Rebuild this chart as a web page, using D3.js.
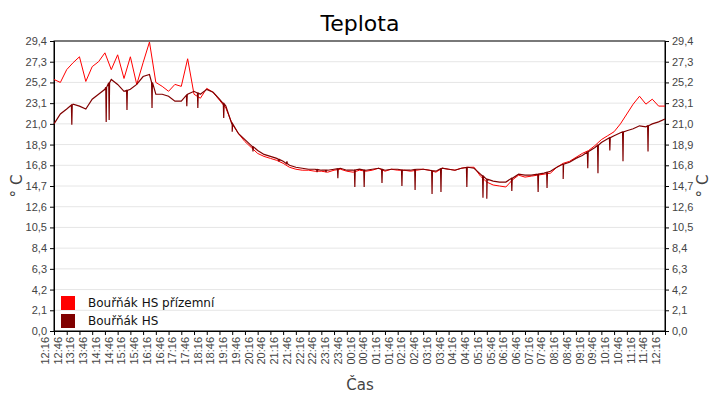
<!DOCTYPE html>
<html>
<head>
<meta charset="utf-8">
<script src="https://cdn.jsdelivr.net/npm/d3@7"></script>
<style>
  body { margin: 0; background: #fff; }
  svg { font-family: "DejaVu Sans", sans-serif; }
  .axis text { fill: #444; font-size: 11px; }
  .axis path, .axis line { stroke: #000; }
</style>
</head>
<body>
<script>
// readings every 15 minutes from 12:16
const stepMinutes = 15;
const seriesNames = ['Bouřňák HS přízemní', 'Bouřňák HS'];
const seriesColors = ['#ff0000', '#800000'];

const ground = [
  25.5, 25.2, 26.5, 27.2, 27.8, 25.3, 26.8, 27.3, 28.2, 26.5, 28.0, 25.6, 27.8, 25.0, 27.2, 29.3,
  25.2, 24.8, 24.3, 25.0, 24.8, 27.6, 24.0, 23.6, 24.6, 24.2, 23.4, 22.6, 21.0, 20.0, 19.2, 18.6,
  18.0, 17.7, 17.5, 17.3, 17.0, 16.6, 16.4, 16.3, 16.3, 16.2, 16.2, 16.1, 16.3, 16.4, 16.2, 16.1,
  16.3, 16.2, 16.3, 16.5, 16.2, 16.4, 16.3, 16.3, 16.2, 16.3, 16.4, 16.3, 16.1, 16.5, 16.4, 16.3,
  16.5, 16.6, 16.6, 15.7, 15.1, 14.8, 14.7, 14.6, 15.3, 15.8, 15.6, 15.7, 15.8, 15.9, 16.0, 16.6,
  17.0, 17.2, 17.6, 18.0, 18.3, 18.8, 19.4, 19.8, 20.2, 21.0, 22.0, 23.0, 23.8, 23.0, 23.5, 22.8,
  22.8
];

const hs = [
  21.0, 22.0, 22.5, 23.0, 22.8, 22.5, 23.5, 24.0, 24.5, 25.5, 25.0, 24.3, 24.5, 25.0, 25.8, 26.0,
  24.0, 24.0, 23.8, 23.3, 23.3, 24.0, 24.3, 24.0, 24.5, 24.2, 23.5, 22.8, 21.0, 20.0, 19.4, 18.8,
  18.3, 17.9, 17.7, 17.5, 17.2, 16.8, 16.6, 16.5, 16.4, 16.4, 16.3, 16.3, 16.4, 16.5, 16.3, 16.3,
  16.4, 16.3, 16.4, 16.5, 16.3, 16.4, 16.4, 16.3, 16.3, 16.4, 16.4, 16.3, 16.2, 16.5, 16.4, 16.3,
  16.5, 16.6, 16.5, 15.9, 15.4, 15.2, 15.1, 15.1, 15.5, 15.9, 15.8, 15.8, 15.9, 16.0, 16.2, 16.6,
  16.9, 17.1, 17.5, 17.8, 18.2, 18.6, 19.1, 19.5, 19.8, 20.1, 20.3, 20.5, 20.8, 20.7, 21.0, 21.2,
  21.5
];

// short drops in the HS sensor: [minutes from start, value]
const hsDrops = [
  [42, 20.9], [123, 21.2], [130, 21.4], [172, 22.4], [231, 22.6], [313, 22.8], [339, 22.6],
  [400, 21.6], [420, 20.2], [469, 18.2], [530, 17.2], [549, 17.2], [620, 16.1], [641, 16.1],
  [669, 15.5], [709, 14.6], [731, 14.6], [773, 15.0], [820, 14.7], [851, 14.3], [891, 13.9],
  [912, 14.1], [973, 14.6], [1011, 13.5], [1020, 13.4], [1079, 14.2], [1141, 14.1], [1162, 14.5],
  [1200, 15.4], [1258, 16.5], [1282, 16.0], [1310, 18.3], [1341, 17.2], [1400, 18.2]
];

const yTicks = [0, 2.1, 4.2, 6.3, 8.4, 10.5, 12.6, 14.7, 16.8, 18.9, 21.0, 23.1, 25.2, 27.3, 29.4];

const start = new Date(2024, 0, 1, 12, 16);
const t = m => new Date(start.getTime() + m * 60000);

const margin = { top: 41, right: 55, bottom: 69, left: 54 };
const width = 720 - margin.left - margin.right;
const height = 400 - margin.top - margin.bottom;

const svg = d3.select('body').append('svg')
  .attr('width', 720).attr('height', 400);

const g = svg.append('g')
  .attr('transform', `translate(${margin.left}, ${margin.top})`);

const x = d3.scaleTime().domain([t(0), t(24 * 60)]).range([0, width]);
const y = d3.scaleLinear().domain([0, 29.4]).range([height, 0]);

g.selectAll('line.grid')
  .data(yTicks.slice(1))
  .enter().append('line')
  .attr('class', 'grid')
  .attr('x1', 0).attr('x2', width)
  .attr('y1', d => y(d)).attr('y2', d => y(d))
  .attr('stroke', '#e6e6e6');

const fmt = d3.format('.1f');
const comma = d => fmt(d).replace('.', ',');

g.append('g').attr('class', 'axis')
  .call(d3.axisLeft(y).tickValues(yTicks).tickFormat(comma).tickSize(4));
g.append('g').attr('class', 'axis')
  .attr('transform', `translate(${width},0)`)
  .call(d3.axisRight(y).tickValues(yTicks).tickFormat(comma).tickSize(4));

const xTicks = d3.range(0, 24 * 60 + 1, 30).map(t);
g.append('g').attr('class', 'axis')
  .attr('transform', `translate(0,${height})`)
  .call(d3.axisBottom(x).tickValues(xTicks).tickFormat(d3.timeFormat('%H:%M')).tickSize(4))
  .selectAll('text')
  .attr('transform', 'rotate(-90)')
  .attr('text-anchor', 'end')
  .attr('dx', '-6px').attr('dy', '-0.5em')
  .attr('y', 0).attr('x', 0);

g.append('rect')
  .attr('width', width).attr('height', height)
  .attr('fill', 'none').attr('stroke', '#000');

const line = d3.line().x(d => x(d[0])).y(d => y(d[1]));

const groundPts = ground.map((v, i) => [t(i * stepMinutes), v]);
const hsPts = hs.map((v, i) => [i * stepMinutes, v]);
hsDrops.forEach(([m, v]) => {
  const i = Math.min(Math.floor(m / stepMinutes), hs.length - 2);
  const f = (m - i * stepMinutes) / stepMinutes;
  const base = hs[i] + (hs[i + 1] - hs[i]) * f;
  hsPts.push([m - 1, base], [m, v], [m + 1, base]);
});
hsPts.sort((a, b) => a[0] - b[0]);

g.append('path')
  .datum(groundPts)
  .attr('d', line)
  .attr('fill', 'none').attr('stroke', seriesColors[0]).attr('stroke-width', 1);

g.append('path')
  .datum(hsPts.map(d => [t(d[0]), d[1]]))
  .attr('d', line)
  .attr('fill', 'none').attr('stroke', seriesColors[1]).attr('stroke-width', 1.2);

const legend = g.selectAll('g.legend')
  .data(seriesNames)
  .enter().append('g')
  .attr('transform', (d, i) => `translate(7, ${255 + i * 18})`);
legend.append('rect')
  .attr('width', 14).attr('height', 14)
  .attr('fill', (d, i) => seriesColors[i]);
legend.append('text')
  .text(d => d)
  .attr('x', 27).attr('y', 11)
  .attr('font-size', 12).attr('fill', '#111');

svg.append('text')
  .text('Teplota')
  .attr('x', 360).attr('y', 31)
  .attr('text-anchor', 'middle')
  .attr('font-size', 22);

svg.append('text')
  .text('Čas')
  .attr('x', 360).attr('y', 390)
  .attr('text-anchor', 'middle')
  .attr('font-size', 15).attr('fill', '#444');

[22, 708].forEach(cx => {
  svg.append('text')
    .text('° C')
    .attr('transform', `translate(${cx}, 186) rotate(-90)`)
    .attr('text-anchor', 'middle')
    .attr('font-size', 15).attr('fill', '#444');
});
</script>
</body>
</html>
